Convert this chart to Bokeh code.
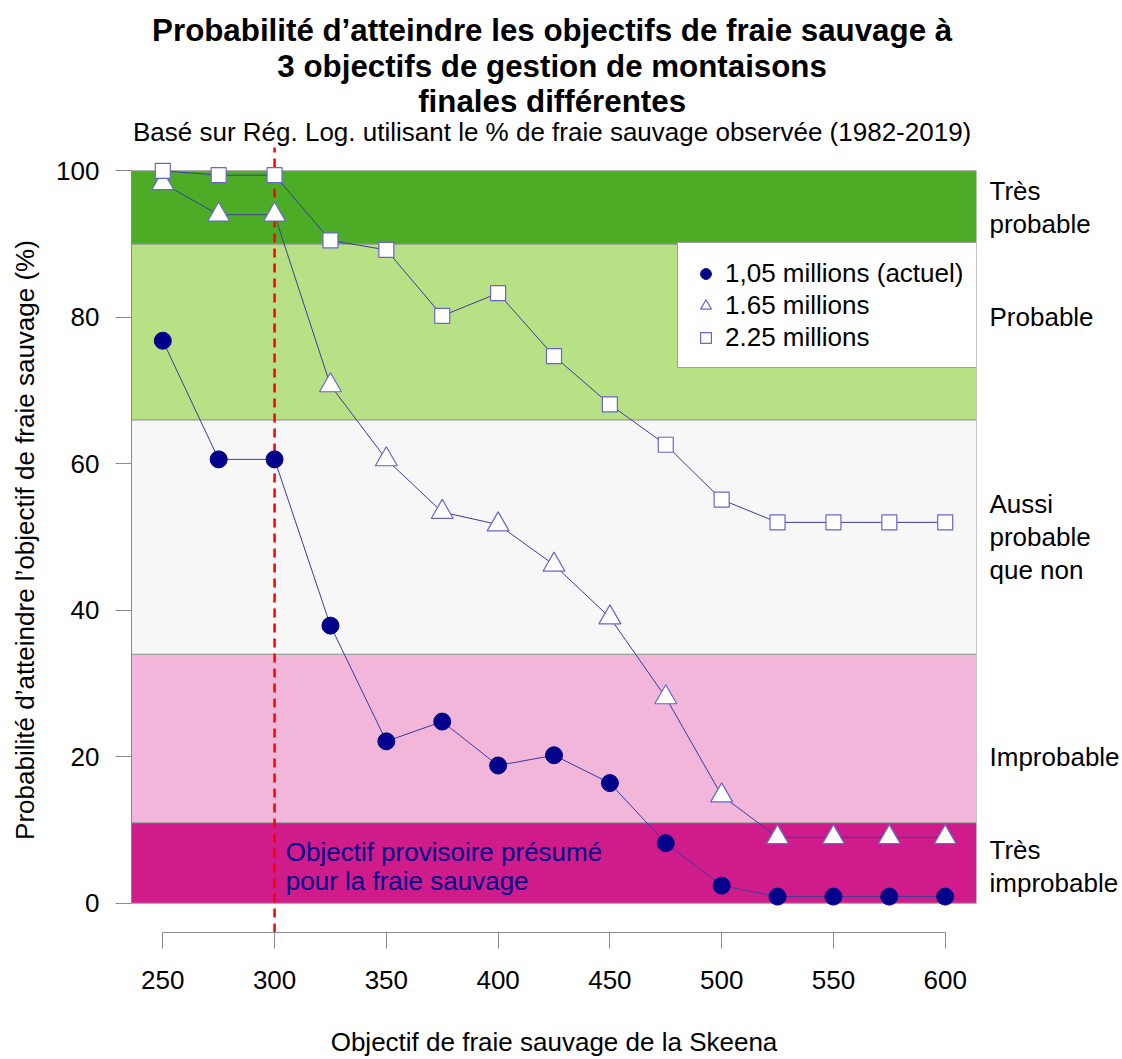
from bokeh.plotting import figure
from bokeh.layouts import column
from bokeh.models import Range1d, FixedTicker, Label, Legend, LegendItem, LinearAxis
from bokeh.embed import file_html
from bokeh.resources import INLINE

# ---------------- data ----------------
goals = [250, 275, 300, 325, 350, 375, 400, 425, 450, 475, 500, 525, 550, 575, 600]
prob_105 = [76.8, 60.6, 60.6, 37.9, 22.1, 24.8, 18.8, 20.2, 16.4, 8.2, 2.4, 0.9, 0.9, 0.9, 0.9]
prob_165 = [98.3, 94.0, 94.0, 70.7, 60.6, 53.4, 51.7, 46.2, 39.0, 28.1, 14.7, 9.0, 9.0, 9.0, 9.0]
prob_225 = [100.0, 99.4, 99.4, 90.5, 89.2, 80.2, 83.3, 74.7, 68.1, 62.6, 55.1, 52.0, 52.0, 52.0, 52.0]
series_labels = ["1,05 millions (actuel)", "1.65 millions", "2.25 millions"]

band_bottoms = [0, 11, 34, 66, 90]
band_tops = [11, 34, 66, 90, 100]
band_colors = ["#D01C8B", "#F1B6DA", "#F7F7F7", "#B8E186", "#4DAC26"]
band_labels = ["Très\nimprobable", "Improbable", "Aussi\nprobable\nque non", "Probable", "Très\nprobable"]
band_label_y = [5, 20, 50, 80, 95]

x_ticks = [250, 300, 350, 400, 450, 500, 550, 600]
y_ticks = [0, 20, 40, 60, 80, 100]
interim_goal = 300
region_x = (236, 614)      # plotting region (R-style 4 % extension of 250-600)
region_y = (-4, 104)       # plotting region (R-style 4 % extension of 0-100)

title_lines = ["Probabilité d’atteindre les objectifs de fraie sauvage à",
               "3 objectifs de gestion de montaisons",
               "finales différentes"]
subtitle_text = "Basé sur Rég. Log. utilisant le % de fraie sauvage observée (1982-2019)"
x_label = "Objectif de fraie sauvage de la Skeena"
y_label = "Probabilité d’atteindre l’objectif de fraie sauvage (%)"
note_text = "Objectif provisoire présumé\npour la fraie sauvage"

# ---------------- layout / style ----------------
FONT = "Liberation Sans"
AXIS_GRAY = "#8a8a8a"
LINE_COL = "#3c3c9c"
MARK_COL = "#6666CC"
DARK_BLUE = "#00008B"

W = 1122
HEAD_H = 147               # header strip holding the title and subtitle
MAIN_H = 1059 - HEAD_H
TITLE_CX = 558.5
TITLE_ROWS = [30, 66, 101]
SUBTITLE_ROW = 131
NOTE_X, NOTE_Y = 305, 5

# ---------------- header (title + subtitle) ----------------
head = figure(width=W, height=HEAD_H, output_backend="svg", toolbar_location=None,
              x_range=Range1d(0, W), y_range=Range1d(HEAD_H, 0),
              x_axis_type=None, y_axis_type=None, min_border=0,
              outline_line_color=None, background_fill_color="white", border_fill_color="white")
head.grid.visible = False
for txt, row in zip(title_lines, TITLE_ROWS):
    head.add_layout(Label(x=TITLE_CX, y=row, text=txt, text_font=FONT, text_font_size="31.3px",
                          text_font_style="bold", text_color="black",
                          text_align="center", text_baseline="middle"))
head.add_layout(Label(x=TITLE_CX, y=SUBTITLE_ROW, text=subtitle_text, text_font=FONT,
                      text_font_size="26px", text_color="black",
                      text_align="center", text_baseline="middle"))

# ---------------- main chart ----------------
y_top = region_y[1] - (HEAD_H - 141) / 7.352   # frame starts just below the header
p = figure(width=W, height=MAIN_H, output_backend="svg", toolbar_location=None,
           x_range=Range1d(*region_x), y_range=Range1d(region_y[0], y_top),
           min_border_left=131, min_border_right=145, min_border_top=0, min_border_bottom=124,
           background_fill_color="white", border_fill_color="white", outline_line_color=None)
p.grid.visible = False

xa = p.xaxis[0]
xa.ticker = FixedTicker(ticks=x_ticks)
xa.bounds = (x_ticks[0], x_ticks[-1])
xa.axis_line_color = AXIS_GRAY
xa.major_tick_line_color = AXIS_GRAY
xa.major_tick_out = 16
xa.major_tick_in = 0
xa.minor_tick_line_color = None
xa.major_label_text_font = FONT
xa.major_label_text_font_size = "26px"
xa.major_label_text_color = "black"
xa.major_label_standoff = 22
xa.axis_label = x_label
xa.axis_label_text_font = FONT
xa.axis_label_text_font_size = "26px"
xa.axis_label_text_font_style = "normal"
xa.axis_label_text_color = "black"
xa.axis_label_standoff = 35

ya = p.yaxis[0]
ya.ticker = FixedTicker(ticks=y_ticks)
ya.bounds = (y_ticks[0], y_ticks[-1])
ya.axis_line_color = AXIS_GRAY
ya.major_tick_line_color = AXIS_GRAY
ya.major_tick_out = 16
ya.major_tick_in = 0
ya.minor_tick_line_color = None
ya.major_label_text_font = FONT
ya.major_label_text_font_size = "26px"
ya.major_label_text_color = "black"
ya.major_label_standoff = 16
ya.axis_label = y_label
ya.axis_label_text_font = FONT
ya.axis_label_text_font_size = "26px"
ya.axis_label_text_font_style = "normal"
ya.axis_label_text_color = "black"
ya.axis_label_standoff = 13

# likelihood category names on the right
ra = LinearAxis(ticker=FixedTicker(ticks=band_label_y),
                major_label_overrides={yv: txt for yv, txt in zip(band_label_y, band_labels)},
                axis_line_color=None, major_tick_line_color=None, minor_tick_line_color=None,
                major_tick_out=0, major_tick_in=0, major_label_standoff=13,
                major_label_text_font=FONT, major_label_text_font_size="26px",
                major_label_text_color="black", major_label_text_line_height=1.1)
p.add_layout(ra, "right")

# likelihood bands
p.quad(left=region_x[0], right=region_x[1], bottom=band_bottoms, top=band_tops,
       fill_color=band_colors, line_color="#9a9a9a", line_width=1)

# interim goal line
p.segment(x0=[interim_goal], y0=[region_y[0]], x1=[interim_goal], y1=[region_y[1]],
          line_color="red", line_width=2.5, line_dash="9 6")

# series
p.line(goals, prob_105, line_color=LINE_COL, line_width=1)
p.line(goals, prob_165, line_color=LINE_COL, line_width=1)
p.line(goals, prob_225, line_color=LINE_COL, line_width=1)
r1 = p.scatter(goals, prob_105, marker="circle", size=17, fill_color=DARK_BLUE, line_color=DARK_BLUE)
r2 = p.scatter(goals, prob_165, marker="triangle", size=22, fill_color="white",
               line_color=MARK_COL, line_width=1.2)
r3 = p.scatter(goals, prob_225, marker="square", size=15, fill_color="white",
               line_color=MARK_COL, line_width=1.2)

legend = Legend(items=[LegendItem(label=series_labels[0], renderers=[r1]),
                       LegendItem(label=series_labels[1], renderers=[r2]),
                       LegendItem(label=series_labels[2], renderers=[r3])],
                location=(546, 564), padding=14, spacing=0, margin=0,
                glyph_width=27, glyph_height=27, label_height=32, label_width=235,
                label_standoff=6,
                label_text_font=FONT, label_text_font_size="26px", label_text_color="black",
                border_line_color="#404040", border_line_width=1,
                background_fill_color="white", background_fill_alpha=1)
p.add_layout(legend)

# interim goal note
p.add_layout(Label(x=NOTE_X, y=NOTE_Y, text=note_text, text_font=FONT, text_font_size="26px",
                   text_color=DARK_BLUE, text_align="left", text_baseline="middle",
                   text_line_height=0.97))

layout = column(head, p, spacing=0)
open("out.html", "w").write(file_html(layout, INLINE))
